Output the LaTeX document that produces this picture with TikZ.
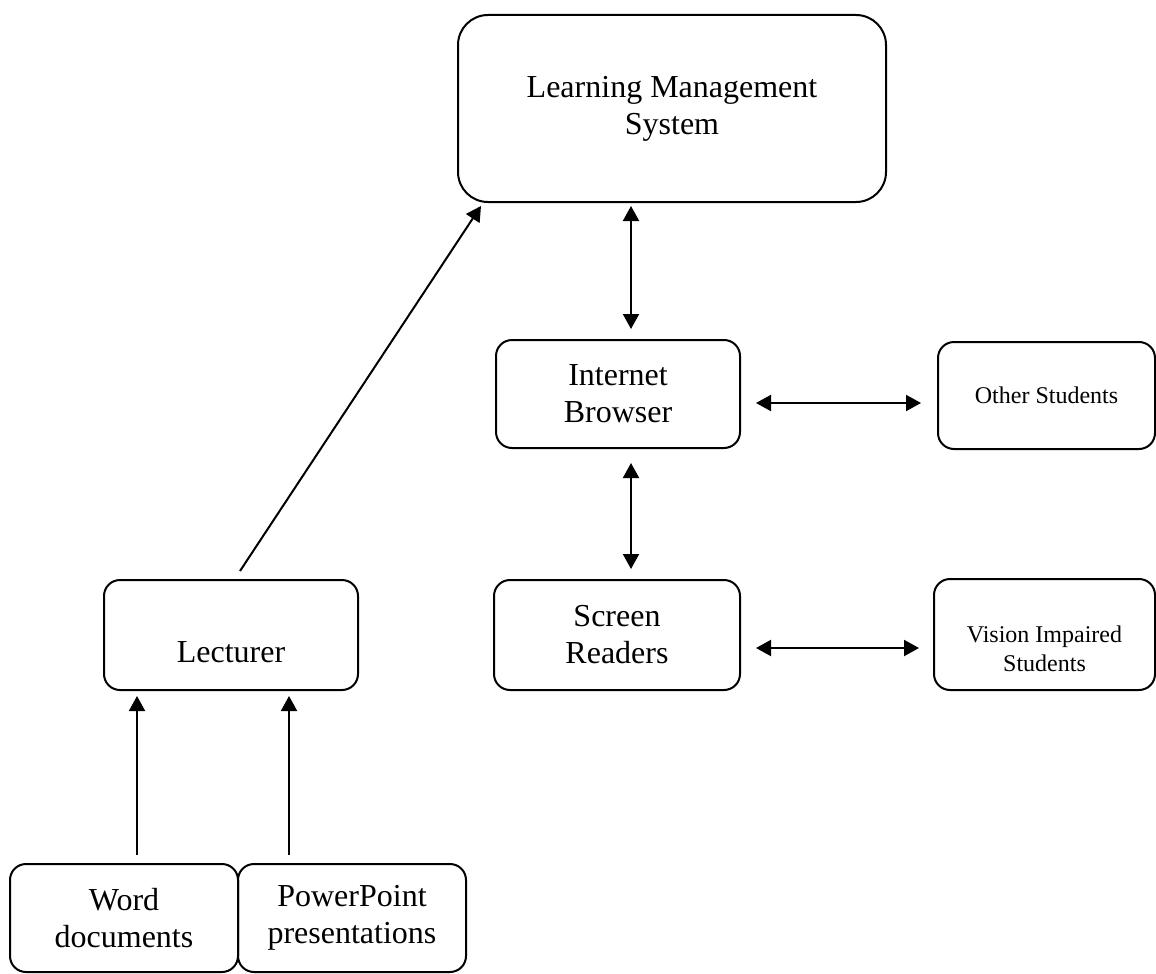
\documentclass[tikz,border=0pt]{standalone}
\usepackage{fontspec}
\setmainfont{Liberation Serif}
\usetikzlibrary{arrows.meta}
\newcommand{\pad}[1]{\rule{0pt}{#1}}

\begin{document}
\begin{tikzpicture}[x=0.5pt,y=-0.5pt,
    box/.style = {draw, line width=1pt, rounded corners=#1, align=center,
                inner sep=0pt, font=\fontsize{16}{18.5}\selectfont},
    box/.default = 8pt,  % corner radius of the small boxes
    small/.style = {font=\fontsize{12}{14.5}\selectfont},
    oneway/.style = {line width=1pt, -{Triangle[length=7.5pt,width=8pt]}},
    twoway/.style = {line width=1pt,
                {Triangle[length=7.5pt,width=8pt]}-{Triangle[length=7.5pt,width=8pt]}}
                    ]
        \useasboundingbox (0,0) rectangle (1156,974);
        \node[box=15pt, minimum width=214pt, minimum height=93.5pt] at (672,108.5) (lms) {Learning Management\\System};
        \node[box, minimum width=122pt, minimum height=54pt] at (618,394) (browser) {Internet\\Browser};
        \node[box, small, minimum width=108.5pt, minimum height=53.5pt] at (1046.5,395.5) (other) {Other Students};
        \node[box, minimum width=123pt, minimum height=55pt] at (617,635) (screen) {Screen\\Readers};
        \node[box, small, minimum width=110.5pt, minimum height=55.5pt] at (1044.5,634.5) (vision) {\pad{23pt}Vision Impaired\\Students};
        \node[box, minimum width=127pt, minimum height=55pt] at (231,635) (lecturer) {\pad{27.5pt}Lecturer};
        \node[box, minimum width=114pt, minimum height=54pt] at (124,918) (word) {Word\\documents};
        \node[box, minimum width=114pt, minimum height=54pt] at (352,918) (ppt) {PowerPoint\\presentations};
        % lines the arrows run along
        \coordinate (spine) at (631,0);
        \coordinate (row1) at (0,403);
        \coordinate (row2) at (0,648);
        \coordinate (col1) at (137,0);
        \coordinate (col2) at (289,0);
        \draw[twoway, shorten <=1.5pt, shorten >=5pt] (lms.south -| spine) -- (browser.north -| spine);
        \draw[twoway, shorten <=7pt, shorten >=5pt] (browser.south -| spine) -- (screen.north -| spine);
        \draw[twoway, shorten <=7.5pt, shorten >=8pt] (browser.east |- row1) -- (other.west |- row1);
        \draw[twoway, shorten <=7.5pt, shorten >=7pt] (screen.east |- row2) -- (vision.west |- row2);
        \draw[oneway] ([xshift=4.5pt,yshift=4pt]lecturer.north) -- ([xshift=12pt,yshift=-1.5pt]lms.south west);
        \draw[oneway, shorten <=4pt, shorten >=2.5pt] (word.north -| col1) -- (lecturer.south -| col1);
        \draw[oneway, shorten <=4pt, shorten >=2.5pt] (ppt.north -| col2) -- (lecturer.south -| col2);
    \end{tikzpicture}
\end{document}
